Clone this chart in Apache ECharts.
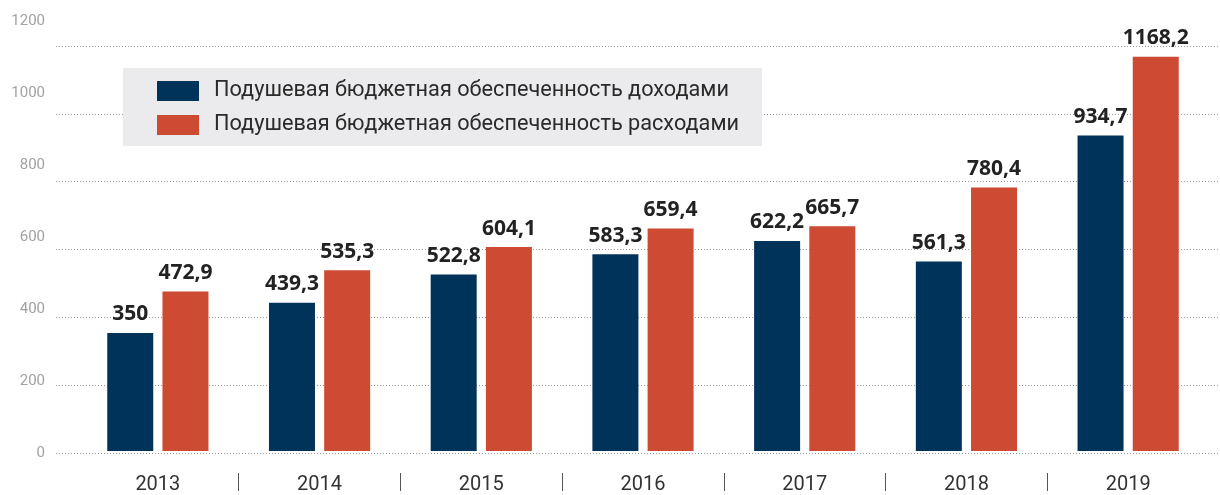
<!DOCTYPE html>
<html>
<head>
<meta charset="utf-8">
<script src="https://cdn.jsdelivr.net/npm/echarts@6/dist/echarts.min.js"></script>
<style>
  html, body { margin: 0; padding: 0; background: #fff; }
  #chart { width: 1220px; height: 495px; }
</style>
</head>
<body>
<div id="chart"></div>
<script>
// данные с картинки
const categories = ['2013', '2014', '2015', '2016', '2017', '2018', '2019']
const incomeValues = [350, 439.3, 522.8, 583.3, 622.2, 561.3, 934.7]
const expenseValues = [472.9, 535.3, 604.1, 659.4, 665.7, 780.4, 1168.2]
const seriesNames = [
  'Подушевая бюджетная обеспеченность доходами',
  'Подушевая бюджетная обеспеченность расходами',
]
const yMax = 1200
const yStep = 200

const COLORS = ['#003359', '#cd4a33']

// разделители между годами
const separators = categories.slice(1).map((_, i) => i + 0.5)

const labelFmt = (p) => String(p.value).replace('.', ',')

const chart = echarts.init(document.getElementById('chart'))

chart.setOption({
  animation: false,
  grid: [
    { left: 56, right: 0, top: 46, bottom: 42 },   // пунктирная сетка
    { left: 77, right: 11, top: 46, bottom: 42 },  // столбцы
    { left: 56, right: 0, top: 21, bottom: 42 },   // подписи оси Y
  ],
  legend: {
    data: seriesNames,
    orient: 'vertical',
    left: 123,
    top: 68,
    backgroundColor: '#ebebed',
    padding: [12, 23, 10, 34],
    itemWidth: 42,
    itemHeight: 20,
    itemGap: 12,
    icon: 'rect',
    selectedMode: false,
    textStyle: { fontFamily: 'Roboto', fontSize: 21.7, color: '#2a2a2a', padding: [0, 0, 0, 10] },
  },
  xAxis: [
    { gridIndex: 0, type: 'value', show: false, min: 0, max: 1 },
    {
      gridIndex: 1,
      type: 'category',
      position: 'bottom',
      data: categories,
      axisLine: { show: false },
      axisTick: { show: false },
      axisLabel: { margin: 24, color: '#333', fontSize: 20, fontFamily: 'Roboto' },
    },
    {
      gridIndex: 1,
      type: 'value',
      position: 'bottom',
      min: -0.5,
      max: categories.length - 0.5,
      offset: 22,
      axisLine: { show: false },
      axisLabel: { show: false },
      splitLine: { show: false },
      axisTick: { show: true, length: 18, customValues: separators, lineStyle: { color: '#555', width: 1 } },
    },
    { gridIndex: 2, type: 'value', show: false, min: 0, max: 1 },
  ],
  yAxis: [
    {
      gridIndex: 0,
      min: 0,
      max: yMax,
      interval: yStep,
      axisLabel: { show: false },
      axisLine: { show: false },
      axisTick: { show: false },
      splitLine: { lineStyle: { type: [1, 2], color: '#9a9a9a', width: 1 } },
    },
    { gridIndex: 1, min: 0, max: yMax, show: false },
    {
      gridIndex: 2,
      min: 0,
      max: yMax,
      interval: yStep,
      axisLine: { show: false },
      axisTick: { show: false },
      splitLine: { show: false },
      axisLabel: { margin: 11, color: '#a3a3a3', fontSize: 15, fontFamily: 'Roboto', formatter: (v) => String(v) },
    },
  ],
  series: [incomeValues, expenseValues].map((vals, i) => ({
    name: seriesNames[i],
    type: 'bar',
    xAxisIndex: 1,
    yAxisIndex: 1,
    data: vals,
    barWidth: 46,
    barGap: '20%',
    itemStyle: { color: COLORS[i] },
    label: {
      show: true,
      position: 'top',
      distance: 8,
      formatter: labelFmt,
      fontFamily: 'Open Sans',
      fontWeight: 'bold',
      fontSize: 21,
      color: '#222',
    },
  })),
})
</script>
</body>
</html>
